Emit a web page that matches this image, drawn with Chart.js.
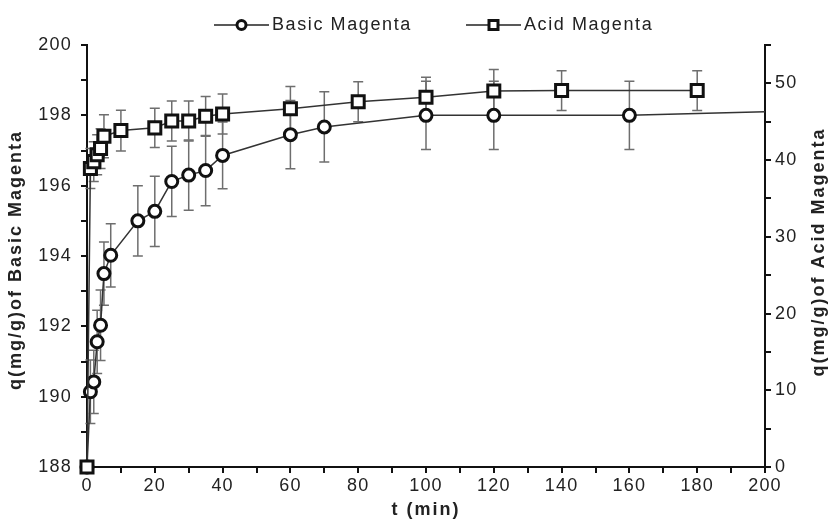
<!DOCTYPE html>
<html>
<head>
<meta charset="utf-8">
<script src="https://cdn.jsdelivr.net/npm/chart.js@4.4.1/dist/chart.umd.min.js"></script>
<style>
  html, body { margin: 0; padding: 0; background: #fff; }
  #wrap { width: 830px; height: 523px; }
</style>
</head>
<body>
<div id="wrap"><canvas id="myChart" width="830" height="523"></canvas></div>
<script>
// time (min) and uptake for each dye
const tBasic = [0, 1, 2, 3, 4, 5, 7, 15, 20, 25, 30, 35, 40, 60, 70, 100, 120, 160, 200];
const qBasic = [188, 190.14, 190.42, 191.56, 192.03, 193.5, 194.02, 195.0, 195.27, 196.12, 196.3, 196.43, 196.86, 197.45, 197.67, 198.0, 198.0, 198.0, 198.1];
const errBasic = [0, 0.9, 0.9, 0.9, 1.0, 0.9, 0.9, 1.0, 1.0, 1.0, 1.0, 1.0, 0.95, 0.97, 1.0, 0.97, 0.97, 0.97, 0];

const tAcid = [0, 1, 2, 3, 4, 5, 10, 20, 25, 30, 35, 40, 60, 80, 100, 120, 140, 180];
const qAcid = [0, 38.9, 39.8, 40.7, 41.5, 43.1, 43.85, 44.2, 45.1, 45.1, 45.7, 46.0, 46.7, 47.6, 48.2, 49.0, 49.06, 49.06];
const errAcid = [0, 2.6, 2.6, 2.6, 2.6, 2.8, 2.65, 2.55, 2.6, 2.6, 2.6, 2.6, 2.9, 2.6, 2.6, 2.8, 2.6, 2.6];

const seriesNames = ['Basic Magenta', 'Acid Magenta'];
const xTitle = 't (min)';
const yLeftTitle = 'q(mg/g)of Basic Magenta';
const yRightTitle = 'q(mg/g)of Acid Magenta';

const FONT = "'Liberation Sans', Arial, sans-serif";
Chart.defaults.font.family = FONT;
Chart.defaults.color = '#222';

function toPoints(xs, ys) {
  return xs.map((x, i) => ({ x: x, y: ys[i] }));
}

// a bit of letter spacing for the tick labels, like the original
const spacing = {
  id: 'spacing',
  beforeDraw(chart) {
    chart.ctx.letterSpacing = '1.2px';
  }
};

// draws the vertical error bars through the chart scales
const errorBars = {
  id: 'errorBars',
  beforeDatasetsDraw(chart) {
    const ctx = chart.ctx;
    const xs = chart.scales.x;
    ctx.save();
    ctx.strokeStyle = '#6e6e6e';
    ctx.lineWidth = 1.5;
    chart.data.datasets.forEach(ds => {
      const ys = chart.scales[ds.yAxisID];
      ds.data.forEach((p, i) => {
        const e = ds.errors[i];
        if (!e) return;
        const px = xs.getPixelForValue(p.x);
        const top = ys.getPixelForValue(p.y + e);
        const bot = ys.getPixelForValue(p.y - e);
        ctx.beginPath();
        ctx.moveTo(px, top); ctx.lineTo(px, bot);
        ctx.moveTo(px - 5, top); ctx.lineTo(px + 5, top);
        ctx.moveTo(px - 5, bot); ctx.lineTo(px + 5, bot);
        ctx.stroke();
      });
    });
    ctx.restore();
  }
};

// legend (line with marker then the text) and the axis titles
const extras = {
  id: 'extras',
  afterDraw(chart) {
    const ctx = chart.ctx;
    const area = chart.chartArea;
    const y = 25;
    const spots = [214, 466];
    ctx.save();
    chart.data.datasets.forEach((ds, i) => {
      const x0 = spots[i];
      ctx.strokeStyle = '#222';
      ctx.lineWidth = 1.5;
      ctx.beginPath();
      ctx.moveTo(x0, y); ctx.lineTo(x0 + 55, y);
      ctx.stroke();
      ctx.lineWidth = 3;
      ctx.fillStyle = '#fff';
      ctx.strokeStyle = '#111';
      ctx.beginPath();
      if (ds.pointStyle === 'rect') {
        ctx.rect(x0 + 23, y - 4.5, 9, 9);
      } else {
        ctx.arc(x0 + 27.5, y, 4.5, 0, Math.PI * 2);
      }
      ctx.fill(); ctx.stroke();
      ctx.fillStyle = '#222';
      ctx.letterSpacing = '1.6px';
      ctx.font = '18px ' + FONT;
      ctx.textBaseline = 'middle';
      ctx.textAlign = 'left';
      ctx.fillText(ds.label, x0 + 58, y);
    });

    ctx.fillStyle = '#222';
    ctx.letterSpacing = '2px';
    ctx.font = 'bold 18px ' + FONT;
    ctx.textAlign = 'center';
    ctx.textBaseline = 'middle';
    ctx.fillText(xTitle, (area.left + area.right) / 2, 510);

    ctx.save();
    ctx.translate(16, 260);
    ctx.rotate(-Math.PI / 2);
    ctx.fillText(yLeftTitle, 0, 0);
    ctx.restore();

    ctx.save();
    ctx.translate(819, 252);
    ctx.rotate(-Math.PI / 2);
    ctx.fillText(yRightTitle, 0, 0);
    ctx.restore();

    ctx.restore();
  }
};

const axisBase = {
  border: { display: true, color: '#111', width: 2 },
  grid: { display: true, drawOnChartArea: false, drawTicks: true, tickLength: 6, color: '#111', lineWidth: 2 },
};

const config = {
  type: 'scatter',
  data: {
    datasets: [
      {
        label: seriesNames[0],
        data: toPoints(tBasic, qBasic),
        errors: errBasic,
        yAxisID: 'y',
        showLine: true,
        clip: false,
        borderColor: '#333',
        borderWidth: 1.5,
        pointStyle: 'circle',
        pointRadius: ctx => (ctx.dataIndex === tBasic.length - 1 ? 0 : 6),
        pointBorderWidth: 3,
        pointBorderColor: '#111',
        pointBackgroundColor: '#fff',
        order: 2
      },
      {
        label: seriesNames[1],
        data: toPoints(tAcid, qAcid),
        errors: errAcid,
        yAxisID: 'y2',
        showLine: true,
        clip: false,
        borderColor: '#333',
        borderWidth: 1.5,
        pointStyle: 'rect',
        pointRadius: 8.5,
        pointBorderWidth: 3,
        pointBorderColor: '#111',
        pointBackgroundColor: '#fff',
        order: 1
      }
    ]
  },
  options: {
    responsive: false,
    animation: false,
    layout: { padding: { top: 45, left: 0, right: 0, bottom: 0 } },
    plugins: { legend: { display: false }, tooltip: { enabled: false } },
    scales: {
      x: Object.assign({}, axisBase, {
        type: 'linear',
        min: 0, max: 200,
        afterFit: s => { s.height = 56; },
        ticks: {
          stepSize: 10, autoSkip: false, maxRotation: 0, padding: 2,
          font: { size: 18 },
          callback: v => (v % 20 === 0 ? v : '')
        }
      }),
      y: Object.assign({}, axisBase, {
        type: 'linear',
        position: 'left',
        min: 188, max: 200,
        afterFit: s => { s.width = 87; },
        ticks: {
          stepSize: 1, autoSkip: false, padding: 9,
          font: { size: 18 },
          callback: v => (v % 2 === 0 ? v : '')
        }
      }),
      y2: Object.assign({}, axisBase, {
        type: 'linear',
        position: 'right',
        min: 0, max: 55,
        afterFit: s => { s.width = 65; },
        ticks: {
          stepSize: 5, autoSkip: false, padding: 4,
          font: { size: 18 },
          callback: v => (v % 10 === 0 ? v : '')
        }
      })
    }
  },
  plugins: [spacing, errorBars, extras]
};

const myChart = new Chart(document.getElementById('myChart'), config);
</script>
</body>
</html>
